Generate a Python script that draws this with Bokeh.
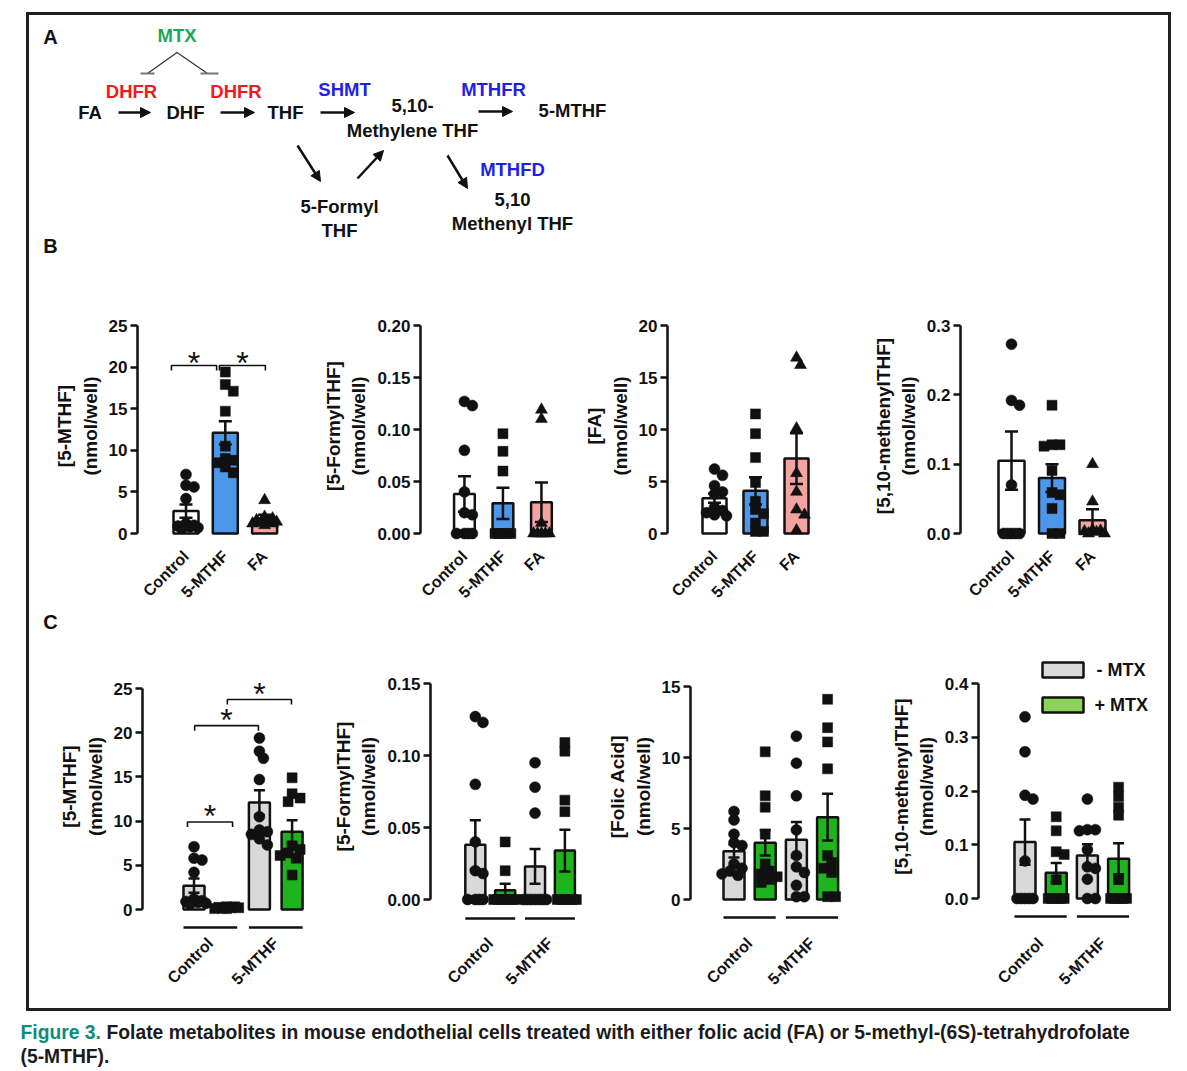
import numpy as np
from bokeh.plotting import figure
from bokeh.models import (Range1d, FixedTicker, NumeralTickFormatter, Whisker, TeeHead,
                          ColumnDataSource, Arrow, NormalHead, Spacer)
from bokeh.layouts import row, column
from bokeh.embed import file_html
from bokeh.resources import INLINE
from bokeh.core.properties import value

FONT = "Liberation Sans"
INK = "#111111"
FRAME = "#1f1f1f"
RED = "#ee1c1c"
BLUE = "#1f1fe6"
GREEN = "#1fa556"
TEAL = "#0f8a7c"
WHITE = "#ffffff"
SKY = "#4d97ea"
PINK = "#f4a3a3"
GREY = "#d9d9d9"
LIME = "#1eb41e"
LEG_LIME = "#8cd35a"

# ============================ DATA ============================
B_GROUPS = ["Control", "5-MTHF", "FA"]
C_GROUPS = ["Control", "5-MTHF"]
C_TREAT = ["- MTX", "+ MTX"]

# [5-MTHF] (nmol/well)
mthf_control = [7.1, 5.8, 5.6, 4.2, 1.2, 1.0, 0.9, 0.8, 0.7, 0.6]
mthf_5mthf = [19.4, 17.9, 17.1, 14.7, 10.5, 9.0, 8.8, 8.5, 8.0, 7.3]
mthf_fa = [4.0, 2.0, 1.8, 1.6, 1.5, 1.4, 1.3, 1.2, 1.2, 1.0]
mthf_control_mtx = [0.3, 0.3, 0.25, 0.2, 0.2, 0.15, 0.1, 0.1]
mthf_5mthf_mtx = [14.9, 13.1, 12.6, 12.2, 7.2, 6.8, 6.4, 6.1, 5.8, 3.9]
mthf_mean_B = [2.7, 12.1, 1.7]
mthf_sem_B = [0.8, 1.4, 0.55]
mthf_mean_C = [2.7, 0.2, 12.1, 8.8]
mthf_sem_C = [0.8, 0.05, 1.4, 1.3]

# [5-FormylTHF] (nmol/well)
formyl_control = [0.127, 0.123, 0.080, 0.040, 0.020, 0.018, 0, 0, 0, 0]
formyl_5mthf_B = [0.096, 0.079, 0.060, 0, 0, 0, 0, 0]
formyl_fa = [0.119, 0.110, 0.010, 0, 0, 0, 0, 0]
formyl_control_mtx = [0.040, 0.020, 0, 0, 0, 0, 0, 0, 0]
formyl_5mthf_C = [0.095, 0.078, 0.060, 0, 0, 0, 0, 0, 0, 0]
formyl_5mthf_mtx = [0.109, 0.103, 0.069, 0.061, 0, 0, 0, 0, 0, 0]
formyl_mean_B = [0.038, 0.029, 0.030]
formyl_sem_B = [0.017, 0.015, 0.019]
formyl_mean_C = [0.038, 0.0065, 0.023, 0.034]
formyl_sem_C = [0.017, 0.0045, 0.012, 0.0145]

# [FA] / [Folic Acid] (nmol/well)
fa_control = [6.2, 5.6, 4.6, 4.0, 3.8, 2.5, 2.2, 2.0, 1.8, 1.7]
fa_5mthf = [11.5, 9.6, 7.3, 4.9, 3.1, 2.3, 1.9, 1.0, 0.2, 0.2]
fa_fa = [16.9, 16.2, 10.1, 5.8, 4.0, 2.3, 1.8, 0.3]
fa_control_mtx = [10.4, 7.3, 6.5, 4.6, 2.5, 2.0, 1.8, 1.6, 1.4, 1.2]
fa_5mthf_mtx = [14.1, 12.1, 11.1, 9.2, 3.1, 2.6, 2.2, 1.9, 0.2, 0.2]
fa_mean_B = [3.4, 4.1, 7.2]
fa_sem_B = [0.45, 1.3, 2.45]
fa_mean_C = [3.4, 4.0, 4.2, 5.8]
fa_sem_C = [0.45, 0.9, 1.25, 1.65]

# [5,10-methenylTHF] (nmol/well)
methenyl_control = [0.338, 0.273, 0.192, 0.185, 0.070, 0, 0, 0, 0, 0]
methenyl_5mthf = [0.185, 0.128, 0.128, 0.126, 0.091, 0.059, 0.056, 0.036, 0, 0]
methenyl_fa = [0.100, 0.046, 0.005, 0.004, 0.003, 0.002, 0, 0]
methenyl_control_mtx = [0.152, 0.126, 0.087, 0.082, 0.035, 0, 0, 0, 0, 0]
methenyl_5mthf_mtx = [0.207, 0.190, 0.170, 0.155, 0.035, 0, 0, 0, 0, 0]
methenyl_mean_B = [0.105, 0.080, 0.019]
methenyl_sem_B = [0.042, 0.020, 0.016]
methenyl_mean_C = [0.105, 0.048, 0.080, 0.074]
methenyl_sem_C = [0.042, 0.018, 0.021, 0.029]

# y tick values
ticks_mthf_B = [0, 5, 10, 15, 20, 25]
ticks_formyl_B = [0, 0.05, 0.10, 0.15, 0.20]
ticks_fa_B = [0, 5, 10, 15, 20]
ticks_methenyl_B = [0, 0.1, 0.2, 0.3]
ticks_mthf_C = [0, 5, 10, 15, 20, 25]
ticks_formyl_C = [0, 0.05, 0.10, 0.15]
ticks_fa_C = [0, 5, 10, 15]
ticks_methenyl_C = [0, 0.1, 0.2, 0.3, 0.4]

# significance brackets: (from group position, to group position, level)
sig_B1 = [(-0.37, 0.78, 20.2), (0.85, 2.02, 20.2)]
sig_C1 = [(-0.2, 1.18, 9.9), (0.02, 1.97, 20.8), (1.02, 2.98, 23.75)]

CAPTION_HEAD = "Figure 3."
CAPTION_LINE1 = ("Folate metabolites in mouse endothelial cells treated with either folic acid (FA) "
                 "or 5-methyl-(6S)-tetrahydrofolate")
CAPTION_LINE2 = "(5-MTHF)."

# ============================ HELPERS ============================
MSIZE = {"circle": 11, "square": 10, "triangle": 12}


def blank_fig(x0, x1, y0, y1):
    p = figure(width=x1 - x0, height=y1 - y0, x_range=Range1d(x0, x1), y_range=Range1d(y1, y0),
               output_backend="svg", toolbar_location=None, title=None,
               x_axis_location=None, y_axis_location=None,
               min_border=0, min_border_left=0, min_border_right=0,
               min_border_top=0, min_border_bottom=0)
    p.grid.visible = False
    p.outline_line_color = None
    p.background_fill_color = "white"
    p.border_fill_color = "white"
    return p


def swarm(vals, ppu, d=8.0, step=4.0, kmax=3):
    order = sorted(range(len(vals)), key=lambda i: -vals[i])
    cands = [0.0]
    for k in range(1, kmax + 1):
        cands += [k * step, -k * step]
    placed = []
    offs = [0.0] * len(vals)
    for i in order:
        y = vals[i] * ppu
        best, bestd = 0.0, -1.0
        for c in cands:
            md = min([np.hypot(c - px, y - py) for px, py in placed] or [1e9])
            if md >= d:
                best = c
                break
            if md > bestd + 1e-9:
                best, bestd = c, md
        placed.append((best, y))
        offs[i] = best
    return offs


def panel(cfg):
    fx0, fx1, fy0, fy1 = cfg["fig"]
    axis_x, frame_r, frame_t, frame_b = cfg["axis_x"], cfg["frame_r"], cfg["frame_t"], cfg["frame_b"]
    x0, dx, zero, top_px, ymax = cfg["x0"], cfg["dx"], cfg["zero"], cfg["top"], cfg["ymax"]
    ppu = (zero - top_px) / ymax
    p = figure(width=fx1 - fx0, height=fy1 - fy0, output_backend="svg", toolbar_location=None,
               title=None,
               x_range=Range1d((axis_x - x0) / dx, (frame_r - x0) / dx),
               y_range=Range1d(-(frame_b - zero) / ppu, ymax + (top_px - frame_t) / ppu),
               min_border_left=axis_x - fx0, min_border_right=fx1 - frame_r,
               min_border_top=frame_t - fy0, min_border_bottom=fy1 - frame_b)
    p.grid.visible = False
    p.outline_line_color = None
    p.background_fill_color = "white"
    p.border_fill_color = "white"

    means, sems = cfg["means"], cfg["sems"]
    n = len(means)
    src = ColumnDataSource(dict(x=list(range(n)), top=means,
                                upper=[m + s for m, s in zip(means, sems)],
                                lower=[m - s for m, s in zip(means, sems)],
                                color=cfg["colors"]))
    p.vbar(x="x", top="top", bottom=0, width=cfg["bw"] / dx, fill_color="color",
           line_color=INK, line_width=2.5, source=src)

    for i, (vals, mk) in enumerate(zip(cfg["points"], cfg["markers"])):
        offs = swarm(vals, ppu)
        xs = [i + o / dx for o in offs]
        p.scatter(xs, vals, marker=mk, size=MSIZE[mk], fill_color=INK, line_color=INK,
                  line_width=0.5)

    cap = cfg["cap"]
    w = Whisker(source=src, base="x", upper="upper", lower="lower", line_color=INK,
                line_width=2.5, level="overlay",
                upper_head=TeeHead(size=cap, line_color=INK, line_width=2.5),
                lower_head=TeeHead(size=cap, line_color=INK, line_width=2.5))
    p.add_layout(w)

    sig = cfg.get("sig", [])
    if sig:
        tk = 5.0 / ppu
        xs = [[a, a, b, b] for a, b, lev in sig]
        ys = [[lev - tk, lev, lev, lev - tk] for a, b, lev in sig]
        p.multi_line(xs, ys, line_width=1.6, line_color=INK)
        p.text(x=[(a + b) / 2 for a, b, lev in sig],
               y=[lev + cfg["star_gap"] / ppu for a, b, lev in sig],
               text=["*"] * len(sig), text_font=value(FONT), text_font_size="32px",
               text_align="center", text_baseline="middle", text_color=INK)

    if "underline" in cfg:
        yv = -(cfg["underline"] - zero) / ppu
        hb = (cfg["bw"] / 2) / dx
        p.segment(x0=[0 - hb, 2 - hb], x1=[1 + hb, 3 + hb], y0=[yv, yv], y1=[yv, yv],
                  line_width=2.5, line_color=INK)

    if cfg.get("legend"):
        lx = [(1062.5 - x0) / dx] * 2
        ly = [(zero - 669.5) / ppu, (zero - 704.5) / ppu]
        p.rect(x=lx, y=ly, width=41, height=15, width_units="screen", height_units="screen",
               fill_color=[GREY, LEG_LIME], line_color=INK, line_width=2.5)
        p.text(x=[(1096 - x0) / dx, (1094 - x0) / dx], y=ly, text=C_TREAT,
               text_font=value(FONT), text_font_size="18px", text_font_style="bold",
               text_align="left", text_baseline="middle", text_color=INK)

    ya = p.yaxis[0]
    ya.ticker = FixedTicker(ticks=cfg["yticks"])
    ya.formatter = NumeralTickFormatter(format=cfg["fmt"])
    ya.bounds = (0, ymax)
    ya.axis_line_width = 2.5
    ya.axis_line_color = INK
    ya.major_tick_line_width = 2.5
    ya.major_tick_line_color = INK
    ya.major_tick_in = 0
    ya.major_tick_out = 7
    ya.minor_tick_line_color = None
    ya.major_label_text_font = FONT
    ya.major_label_text_font_size = "17px"
    ya.major_label_text_font_style = "bold"
    ya.major_label_text_color = INK
    ya.major_label_standoff = 3
    ya.axis_label = cfg["ylabel"]
    ya.axis_label_text_font = FONT
    ya.axis_label_text_font_size = "19px"
    ya.axis_label_text_font_style = "bold"
    ya.axis_label_text_color = INK
    ya.axis_label_standoff = 5

    xa = p.xaxis[0]
    xa.ticker = FixedTicker(ticks=cfg["xticks"])
    xa.major_label_overrides = {float(t): lab for t, lab in zip(cfg["xticks"], cfg["xlabels"])}
    xa.major_label_orientation = np.pi / 4
    xa.axis_line_color = None
    xa.major_tick_line_color = None
    xa.minor_tick_line_color = None
    xa.major_tick_in = 0
    xa.major_tick_out = 0
    xa.major_label_text_font = FONT
    xa.major_label_text_font_size = "16px"
    xa.major_label_text_font_style = "bold"
    xa.major_label_text_color = INK
    xa.major_label_standoff = cfg["xstand"]
    return p


B_COLORS = [WHITE, SKY, PINK]
B_MARKERS = ["circle", "square", "triangle"]
C_COLORS = [GREY, LIME, GREY, LIME]
C_MARKERS = ["circle", "square", "circle", "square"]
BY = (300, 612)
CY = (632, 1008)

cfgB = [
    dict(fig=(29, 320) + BY, axis_x=137, frame_r=315,
         x0=185.5, dx=39.3, zero=533, top=325, ymax=25, bw=25,
         means=mthf_mean_B, sems=mthf_sem_B, points=[mthf_control, mthf_5mthf, mthf_fa],
         yticks=ticks_mthf_B, fmt="0", ylabel="[5-MTHF]\n(nmol/well)", sig=sig_B1, star_gap=2),
    dict(fig=(320, 580) + BY, axis_x=418, frame_r=575,
         x0=462.5, dx=39.0, zero=533, top=325, ymax=0.20, bw=21,
         means=formyl_mean_B, sems=formyl_sem_B, points=[formyl_control, formyl_5mthf_B, formyl_fa],
         yticks=ticks_formyl_B, fmt="0.00", ylabel="[5-FormylTHF]\n(nmol/well)"),
    dict(fig=(580, 860) + BY, axis_x=667, frame_r=855,
         x0=714, dx=41.0, zero=533, top=325, ymax=20, bw=24,
         means=fa_mean_B, sems=fa_sem_B, points=[fa_control, fa_5mthf, fa_fa],
         yticks=ticks_fa_B, fmt="0", ylabel="[FA]\n(nmol/well)"),
    dict(fig=(860, 1168) + BY, axis_x=960, frame_r=1145,
         x0=1011, dx=40.5, zero=533, top=325, ymax=0.3, bw=26,
         means=methenyl_mean_B, sems=methenyl_sem_B,
         points=[methenyl_control, methenyl_5mthf, methenyl_fa],
         yticks=ticks_methenyl_B, fmt="0.0", ylabel="[5,10-methenylTHF]\n(nmol/well)"),
]
for c in cfgB:
    c.update(colors=B_COLORS, markers=B_MARKERS, xticks=[0, 1, 2], xlabels=B_GROUPS, xstand=12,
             frame_t=310, frame_b=541, cap=13)

cfgC = [
    dict(fig=(29, 330) + CY, axis_x=142, frame_r=325,
         x0=193.5, dx=32.7, zero=909, top=688, ymax=25, underline=927,
         means=mthf_mean_C, sems=mthf_sem_C,
         points=[mthf_control, mthf_control_mtx, mthf_5mthf, mthf_5mthf_mtx],
         yticks=ticks_mthf_C, fmt="0", ylabel="[5-MTHF]\n(nmol/well)", sig=sig_C1, star_gap=6),
    dict(fig=(330, 600) + CY, axis_x=422, frame_r=595,
         x0=469, dx=31.3, zero=899, top=683, ymax=0.15, underline=918,
         means=formyl_mean_C, sems=formyl_sem_C,
         points=[formyl_control, formyl_control_mtx, formyl_5mthf_C, formyl_5mthf_mtx],
         yticks=ticks_formyl_C, fmt="0.00", ylabel="[5-FormylTHF]\n(nmol/well)"),
    dict(fig=(600, 880) + CY, axis_x=690, frame_r=875,
         x0=733.5, dx=31.2, zero=899, top=686, ymax=15, underline=917,
         means=fa_mean_C, sems=fa_sem_C,
         points=[fa_control, fa_control_mtx, fa_5mthf, fa_5mthf_mtx],
         yticks=ticks_fa_C, fmt="0", ylabel="[Folic Acid]\n(nmol/well)"),
    dict(fig=(880, 1168) + CY, axis_x=978, frame_r=1160,
         x0=1024.5, dx=31.2, zero=898, top=683, ymax=0.4, underline=916,
         means=methenyl_mean_C, sems=methenyl_sem_C,
         points=[methenyl_control, methenyl_control_mtx, methenyl_5mthf, methenyl_5mthf_mtx],
         yticks=ticks_methenyl_C, fmt="0.0", ylabel="[5,10-methenylTHF]\n(nmol/well)",
         legend=True),
]
for c in cfgC:
    c.update(colors=C_COLORS, markers=C_MARKERS, xticks=[0.5, 2.5], xlabels=C_GROUPS,
             xstand=8, bw=21, cap=11, frame_t=640, frame_b=932)

panelsB = [panel(c) for c in cfgB]
panelsC = [panel(c) for c in cfgC]

# ============================ PANEL A (pathway) ============================
top = blank_fig(29, 1168, 15, 300)
top.text(x=[50, 50], y=[36, 245], text=["A", "B"], text_font=value(FONT), text_font_size="20px",
         text_font_style="bold", text_align="center", text_baseline="middle", text_color=INK)

met_text = ["FA", "DHF", "THF", "5,10-", "Methylene THF", "5-MTHF", "5-Formyl", "THF", "5,10",
            "Methenyl THF"]
met_x = [89.5, 185, 285, 412, 412, 572, 339, 339, 512, 512]
met_y = [112, 112, 112, 105, 130, 110, 206, 230, 199, 223]
top.text(x=met_x, y=met_y, text=met_text, text_font=value(FONT), text_font_size="18.5px",
         text_font_style="bold", text_align="center", text_baseline="middle", text_color=INK)

enz_text = ["MTX", "DHFR", "DHFR", "SHMT", "MTHFR", "MTHFD"]
enz_x = [176.5, 131, 235.5, 344, 493, 512]
enz_y = [35, 91, 91, 89, 89, 169]
enz_col = [GREEN, RED, RED, BLUE, BLUE, BLUE]
top.text(x=enz_x, y=enz_y, text=enz_text, text_font=value(FONT), text_font_size="18.5px",
         text_font_style="bold", text_align="center", text_baseline="middle", text_color=enz_col)

arrows = [(118, 112, 150, 112), (220, 112, 254, 112), (320, 112, 354, 112), (478, 111, 512, 111),
          (297, 145, 320, 181), (357, 178, 383, 150), (447, 155, 467, 188)]
for xs_, ys_, xe_, ye_ in arrows:
    top.add_layout(Arrow(x_start=xs_, y_start=ys_, x_end=xe_, y_end=ye_, line_width=2.5,
                         line_color=INK,
                         end=NormalHead(size=10, fill_color=INK, line_color=INK, line_width=1)))

top.multi_line([[147, 176.5, 207]], [[73, 52, 73]], line_width=1.2, line_color="#333333")
top.segment(x0=[140, 200], y0=[73, 73], x1=[154, 218], y1=[73, 73], line_width=2.2,
            line_color="#777777")

cstrip = blank_fig(29, 1168, 612, 632)
cstrip.text(x=[50], y=[621], text=["C"], text_font=value(FONT), text_font_size="20px",
            text_font_style="bold", text_align="center", text_baseline="middle", text_color=INK)

bot = blank_fig(0, 1180, 1011, 1069)
bot.text(x=[20], y=[1032], text=[CAPTION_HEAD], text_font=value(FONT), text_font_size="19.3px",
         text_font_style="bold", text_align="left", text_baseline="middle", text_color=TEAL)
bot.text(x=[106, 20], y=[1032, 1056], text=[CAPTION_LINE1, CAPTION_LINE2],
         text_font=value(FONT), text_font_size="19.3px", text_font_style="bold",
         text_align="left", text_baseline="middle", text_color="#1a1a1a")

framed = column(top, row(*panelsB), cstrip, row(*panelsC),
                styles={"border": "3px solid " + FRAME})
layout = column(Spacer(height=12), row(Spacer(width=26), framed), bot)

open("out.html", "w").write(file_html(layout, INLINE))
